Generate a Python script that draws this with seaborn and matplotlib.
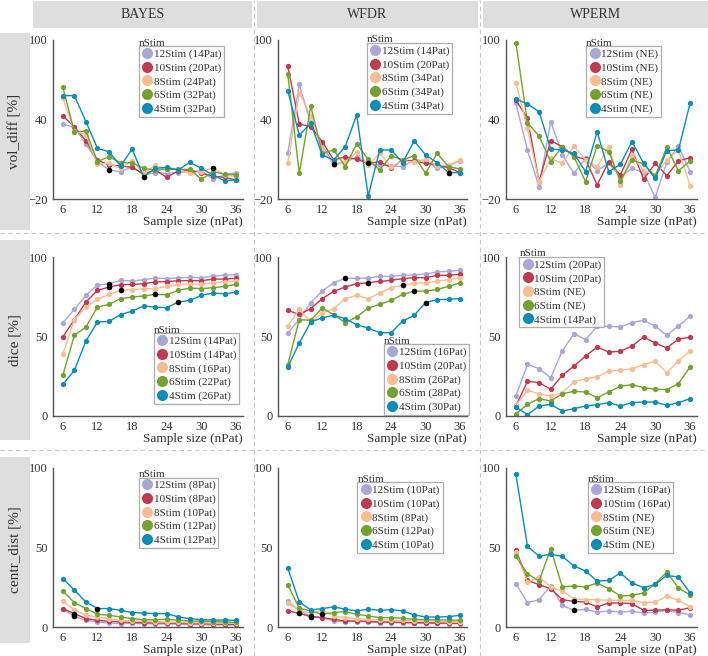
import matplotlib
matplotlib.use('Agg')
import matplotlib.pyplot as plt
from matplotlib.lines import Line2D
from matplotlib.patches import Rectangle
import pandas as pd
import seaborn as sns

# ---- data ----
sample_sizes = [6, 8, 10, 12, 14, 16, 18, 20, 22, 24, 26, 28, 30, 32, 34, 36]
stim_names = ['12Stim', '10Stim', '8Stim', '6Stim', '4Stim']
stim_colors = ['#a9a7da', '#c23a50', '#f9bd92', '#74a22e', '#0c8db6']

methods = ['BAYES', 'WFDR', 'WPERM']
metrics = ['vol_diff [%]', 'dice [%]', 'centr_dist [%]']

# vol_diff
bayes_vol = [
    [36.6, 34.1, 21.5, 8.2, 1.9, 0.6, 4.4, -1.9, -0.1, -0.6, -0.1, 0.6, 1.4, -4.9, -1.9, -0.1],
    [42.6, 34.6, 24.0, 9.4, 5.6, 4.9, 3.9, -1.1, 1.9, -3.7, 1.4, 1.9, -0.6, -2.7, -3.7, -5.7],
    [56.0, 31.6, 28.3, 6.4, 6.9, 3.1, 8.9, -0.6, 5.6, 1.9, 2.4, -0.6, 0.6, 3.6, -1.9, -3.2],
    [64.3, 30.8, 31.3, 8.2, 11.9, 7.4, 7.4, 3.1, 1.9, 2.4, 2.4, 2.4, -5.2, 0.6, -1.1, -1.9],
    [58.0, 58.0, 38.4, 18.2, 15.7, 4.9, 17.7, -3.2, 3.1, 3.9, 1.9, 7.7, 3.1, -1.9, -6.2, -5.7],
]
wfdr_vol = [
    [14.5, 66.5, 37.1, 20.7, 6.4, 7.7, 11.9, 6.4, 5.6, 5.1, 4.4, 9.4, 8.9, 3.1, 5.1, 8.9],
    [80.4, 36.6, 34.6, 23.3, 9.4, 11.9, 9.9, 6.9, 8.2, 3.6, 9.4, 8.7, 6.9, 5.6, 3.6, -0.1],
    [7.4, 60.2, 42.9, 18.2, 5.6, 8.2, 15.2, 5.6, 14.5, 4.4, 8.9, 7.7, 9.9, 4.9, 5.6, 9.4],
    [74.3, -0.6, 50.2, 14.5, 17.0, 4.4, 21.5, 9.9, 1.9, 12.7, 9.4, 12.7, -0.6, 14.5, 4.4, 2.6],
    [61.8, 28.3, 37.1, 13.2, 9.4, 19.5, 43.4, -17.7, 17.0, 17.0, 7.4, 23.8, 13.2, 7.4, -0.1, -0.1],
]
wperm_vol = [
    [52.2, 17.0, -10.7, 38.4, 13.2, -0.6, 10.7, 1.4, 6.9, -3.2, 3.1, -0.1, -18.8, 7.7, 20.0, 0.6],
    [54.7, 40.9, -6.9, 24.0, 19.5, 12.4, 9.9, -9.4, 8.2, -1.9, 17.5, -5.2, 6.9, -2.4, 8.7, 11.2],
    [67.8, 33.3, -6.9, 10.7, 6.9, 20.0, 9.4, 4.4, 19.5, -9.4, 13.2, 1.4, -1.9, 9.4, 17.0, -9.9],
    [98.0, 37.6, 27.5, 8.2, 19.5, 11.9, -6.9, 20.3, 15.7, -6.2, 9.4, 6.4, -2.7, 19.0, 1.4, 8.7],
    [55.5, 51.7, 45.9, 17.7, 17.0, 14.5, 0.6, 30.8, 0.6, 6.1, 23.3, 6.9, -4.4, 16.5, 17.0, 52.2],
]

# dice
bayes_dice = [
    [58.7, 67.1, 75.9, 82.2, 83.2, 85.3, 84.9, 85.7, 86.8, 86.4, 86.8, 87.2, 87.0, 88.0, 88.5, 88.9],
    [49.7, 60.6, 71.7, 79.0, 81.1, 82.6, 82.8, 83.2, 84.3, 84.5, 85.1, 85.1, 85.1, 86.1, 86.1, 86.6],
    [38.8, 60.6, 68.5, 73.4, 76.5, 79.0, 79.4, 80.1, 80.1, 81.5, 82.8, 83.2, 82.8, 83.8, 84.3, 84.9],
    [25.6, 50.7, 56.0, 68.5, 70.2, 73.8, 74.8, 75.5, 76.5, 76.3, 79.0, 80.5, 80.1, 80.7, 81.5, 82.8],
    [19.9, 28.7, 47.2, 59.1, 59.5, 63.7, 66.0, 69.2, 68.5, 68.1, 71.7, 72.7, 75.9, 77.3, 76.9, 77.8],
]
wfdr_dice = [
    [52.2, 60.6, 71.3, 78.6, 83.8, 86.6, 86.6, 86.8, 87.8, 87.8, 88.5, 88.7, 89.3, 90.6, 91.0, 91.7],
    [66.4, 63.9, 67.5, 73.8, 78.4, 81.1, 83.2, 83.8, 84.7, 85.3, 86.4, 87.0, 87.0, 88.5, 88.5, 89.1],
    [56.6, 67.1, 59.1, 64.8, 67.5, 73.8, 75.9, 73.8, 77.3, 80.7, 82.2, 83.6, 83.6, 84.9, 85.7, 87.0],
    [32.3, 60.6, 60.2, 67.9, 63.7, 58.7, 62.3, 67.9, 70.2, 72.7, 76.5, 78.4, 78.6, 79.6, 81.5, 83.8],
    [30.8, 45.9, 59.1, 61.8, 63.3, 61.2, 57.4, 55.3, 52.4, 52.4, 59.7, 63.3, 71.3, 73.2, 73.4, 73.8],
]
wperm_dice = [
    [12.6, 32.5, 29.8, 24.1, 40.9, 51.8, 48.0, 56.4, 56.4, 56.0, 58.7, 60.2, 56.6, 50.7, 56.6, 62.7],
    [6.3, 21.8, 21.0, 16.8, 25.6, 31.4, 37.7, 43.4, 40.2, 40.7, 44.0, 49.7, 45.9, 42.8, 48.4, 49.5],
    [6.7, 16.1, 14.0, 12.6, 14.7, 21.4, 23.5, 24.5, 28.3, 28.7, 29.8, 32.3, 34.4, 27.2, 34.6, 40.9],
    [1.3, 7.3, 10.9, 9.4, 14.0, 15.5, 15.1, 11.5, 15.1, 18.7, 19.7, 17.8, 16.8, 16.6, 20.3, 30.8],
    [5.7, 0.8, 6.3, 7.3, 3.1, 4.6, 6.3, 7.1, 8.4, 6.3, 8.4, 8.8, 8.8, 6.7, 8.4, 10.9],
]

# centr_dist
bayes_centr = [
    [11.2, 6.7, 4.2, 3.2, 2.5, 2.1, 2.3, 2.1, 1.9, 1.9, 1.7, 1.5, 1.5, 1.3, 1.3, 1.1],
    [11.6, 8.4, 5.3, 4.2, 3.6, 3.2, 2.9, 2.7, 2.5, 2.5, 2.3, 2.1, 2.1, 1.9, 1.7, 1.7],
    [16.4, 10.5, 7.4, 6.3, 5.3, 4.2, 3.8, 3.6, 3.4, 3.2, 2.9, 2.7, 2.7, 2.5, 2.5, 2.3],
    [22.7, 15.4, 11.6, 8.0, 7.4, 6.3, 5.3, 4.6, 4.6, 4.8, 4.2, 3.8, 3.6, 3.4, 3.2, 2.9],
    [30.5, 23.2, 15.8, 11.6, 11.6, 10.5, 9.1, 8.8, 8.4, 8.4, 6.3, 5.3, 4.6, 4.4, 4.4, 4.2],
]
wfdr_centr = [
    [16.4, 10.1, 6.9, 5.9, 3.8, 3.4, 3.4, 3.2, 2.7, 2.7, 2.7, 2.5, 2.5, 2.3, 2.1, 2.1],
    [10.1, 8.6, 6.5, 5.9, 4.8, 3.8, 3.8, 3.6, 3.2, 3.2, 2.9, 2.7, 2.7, 2.5, 2.5, 2.3],
    [14.9, 10.7, 8.6, 10.7, 6.9, 5.9, 5.3, 4.8, 4.6, 4.4, 4.2, 3.8, 3.8, 3.6, 3.4, 3.2],
    [26.5, 11.8, 10.1, 8.0, 9.1, 9.7, 8.0, 6.9, 5.9, 5.9, 5.5, 4.8, 4.6, 4.4, 4.4, 4.2],
    [37.0, 15.8, 10.7, 11.6, 12.6, 11.2, 10.1, 11.2, 10.5, 10.9, 10.1, 7.6, 6.3, 6.3, 6.5, 7.4],
]
wperm_centr = [
    [27.2, 15.3, 17.2, 25.8, 13.6, 10.5, 11.1, 9.4, 10.1, 9.4, 9.9, 8.8, 9.4, 10.5, 9.0, 7.8],
    [48.6, 29.3, 26.6, 24.1, 17.2, 16.1, 15.7, 12.6, 15.1, 15.1, 14.7, 10.5, 10.5, 10.9, 10.5, 12.2],
    [47.2, 28.3, 31.4, 25.2, 22.6, 17.8, 17.2, 17.2, 16.8, 16.8, 16.8, 15.3, 15.7, 19.3, 16.8, 12.6],
    [44.4, 33.5, 28.9, 49.3, 25.2, 25.8, 25.2, 27.7, 24.1, 19.5, 19.9, 21.4, 27.2, 34.6, 24.5, 20.3],
    [96.0, 50.7, 44.6, 45.7, 44.4, 38.4, 35.2, 28.9, 29.3, 34.0, 27.7, 24.7, 26.8, 32.5, 31.4, 21.6],
]

# patients needed per stim (legend text)
bayes_vol_pat = ['14Pat', '20Pat', '24Pat', '32Pat', '32Pat']
wfdr_vol_pat = ['14Pat', '20Pat', '34Pat', '34Pat', '34Pat']
wperm_vol_pat = ['NE', 'NE', 'NE', 'NE', 'NE']
bayes_dice_pat = ['14Pat', '14Pat', '16Pat', '22Pat', '26Pat']
wfdr_dice_pat = ['16Pat', '20Pat', '26Pat', '28Pat', '30Pat']
wperm_dice_pat = ['20Pat', '20Pat', 'NE', 'NE', '14Pat']
bayes_centr_pat = ['8Pat', '8Pat', '10Pat', '12Pat', '12Pat']
wfdr_centr_pat = ['10Pat', '10Pat', '8Pat', '12Pat', '10Pat']
wperm_centr_pat = ['16Pat', '16Pat', 'NE', 'NE', 'NE']

# points marked black: (stim index, sample size)
bayes_vol_sig = [(0, 14), (4, 20), (2, 32)]
wfdr_vol_sig = [(0, 14), (1, 20), (4, 34)]
wperm_vol_sig = []
bayes_dice_sig = [(0, 14), (1, 14), (2, 16), (3, 22), (4, 26)]
wfdr_dice_sig = [(0, 16), (1, 20), (2, 26), (3, 28), (4, 30)]
wperm_dice_sig = []
bayes_centr_sig = [(0, 8), (1, 8), (4, 12)]
wfdr_centr_sig = [(1, 8), (0, 10), (1, 10), (3, 12)]
wperm_centr_sig = [(0, 16), (1, 16)]

panels = [
    [(bayes_vol, bayes_vol_pat, bayes_vol_sig), (wfdr_vol, wfdr_vol_pat, wfdr_vol_sig),
     (wperm_vol, wperm_vol_pat, wperm_vol_sig)],
    [(bayes_dice, bayes_dice_pat, bayes_dice_sig), (wfdr_dice, wfdr_dice_pat, wfdr_dice_sig),
     (wperm_dice, wperm_dice_pat, wperm_dice_sig)],
    [(bayes_centr, bayes_centr_pat, bayes_centr_sig), (wfdr_centr, wfdr_centr_pat, wfdr_centr_sig),
     (wperm_centr, wperm_centr_pat, wperm_centr_sig)],
]

# ---- layout (pixels) ----
W, H = 708, 656
col_lr = [(53, 243), (278, 467), (506, 697)]
row_tb = [(40, 199), (257, 416), (468, 627)]
head_lr = [(33, 252), (257, 478), (483, 708)]
rowlab_tb = [(33, 230), (240, 440), (457, 643)]
legend_pos = [
    [(0.45, 0.96), (0.47, 0.98), (0.42, 0.96)],
    [(0.53, 0.52), (0.56, 0.45), (0.07, 1.0)],
    [(0.45, 0.94), (0.42, 0.91), (0.43, 0.91)],
]
ylims = [(-20, 100), (0, 100), (0, 100)]
yticks = [[-20, 40, 100], [0, 50, 100], [0, 50, 100]]

sns.set_style('white')
plt.rcParams['font.family'] = ['Liberation Serif', 'DejaVu Serif']

fig = plt.figure(figsize=(W / 100, H / 100), dpi=100)


def fx(x):
    return x / W


def fy(y):
    return 1 - y / H


grey_box = '#dedede'
text_col = '#333333'

# header boxes
for (l, r), name in zip(head_lr, methods):
    fig.add_artist(Rectangle((fx(l), fy(28)), fx(r) - fx(l), fy(1) - fy(28),
                             transform=fig.transFigure, color=grey_box, lw=0))
    fig.text(fx((l + r) / 2), fy(14.5), name, ha='center', va='center',
             fontsize=10, color=text_col)

# row label boxes
for (t, b), name in zip(rowlab_tb, metrics):
    fig.add_artist(Rectangle((0, fy(b)), fx(30), fy(t) - fy(b),
                             transform=fig.transFigure, color=grey_box, lw=0))
    fig.text(fx(15), fy((t + b) / 2), name, ha='center', va='center',
             rotation=90, fontsize=11, color=text_col)

# dashed separators
for x in [254, 480]:
    fig.add_artist(Line2D([fx(x), fx(x)], [0, 1], transform=fig.transFigure,
                          ls=(0, (4, 3)), color='#c8c8c8', lw=0.8))
for y in [233, 450]:
    fig.add_artist(Line2D([0, 1], [fy(y), fy(y)], transform=fig.transFigure,
                          ls=(0, (4, 3)), color='#c8c8c8', lw=0.8))

for i, row in enumerate(panels):
    t, b = row_tb[i]
    for j, (values, pats, sig) in enumerate(row):
        l, r = col_lr[j]
        ax = fig.add_axes([fx(l), fy(b), fx(r) - fx(l), fy(t) - fy(b)])

        df = pd.DataFrame({
            'nPat': sample_sizes * len(stim_names),
            'value': [v for series in values for v in series],
            'stim': [s for s in stim_names for _ in sample_sizes],
        })
        sns.lineplot(data=df, x='nPat', y='value', hue='stim', hue_order=stim_names,
                     palette=stim_colors, marker='o', markersize=3.8,
                     markeredgewidth=0, linewidth=1.0, legend=False, ax=ax)

        if sig:
            sig_df = pd.DataFrame({
                'nPat': [n for _, n in sig],
                'value': [values[k][sample_sizes.index(n)] for k, n in sig],
            })
            sns.scatterplot(data=sig_df, x='nPat', y='value', color='black',
                            s=16, linewidth=0, zorder=5, ax=ax)

        ax.set_xlim(4.3, 37.2)
        ax.set_ylim(*ylims[i])
        ax.set_xticks([6, 12, 18, 24, 30, 36])
        ax.set_xticks(sample_sizes, minor=True)
        ax.set_yticks(yticks[i])
        ax.set_ylabel('')
        ax.set_xlabel('Sample size (nPat)', loc='right', fontsize=9.5,
                      color=text_col, labelpad=0)
        sns.despine(ax=ax)
        for sp in ['left', 'bottom']:
            ax.spines[sp].set_color('#555555')
            ax.spines[sp].set_linewidth(1.0)
        ax.tick_params(axis='both', which='major', labelsize=9, colors=text_col,
                       length=2, width=0.8, pad=2)
        ax.tick_params(axis='x', which='minor', length=1.5, width=0.8,
                       color='#555555', direction='in')
        ax.tick_params(axis='x', which='major', direction='inout', length=3)
        ax.patch.set_alpha(0)

        handles = [Line2D([], [], ls='', marker='o', color=c, markersize=8,
                          markeredgewidth=0) for c in stim_colors]
        labels = [f'{s} ({p})' for s, p in zip(stim_names, pats)]
        lx, ly = legend_pos[i][j]
        leg = ax.legend(handles, labels, loc='upper left', bbox_to_anchor=(lx, ly),
                        borderaxespad=0, frameon=True, fancybox=False,
                        edgecolor='#9a9a9a', fontsize=8, handletextpad=0.1,
                        handlelength=1.0, labelspacing=0.33, borderpad=0.25)
        leg.get_frame().set_linewidth(0.9)
        for txt in leg.get_texts():
            txt.set_color(text_col)
        ax.text(lx, ly + 0.005, 'nStim', transform=ax.transAxes, ha='left',
                va='baseline', fontsize=8, color=text_col)

fig.savefig('out.png', dpi=100)
